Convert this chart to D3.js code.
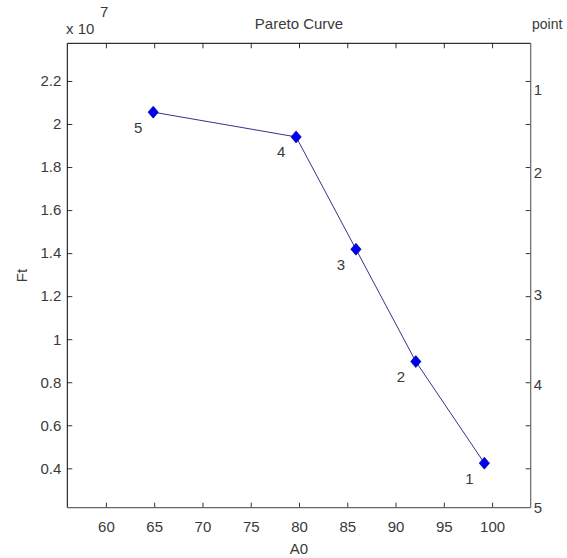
<!DOCTYPE html>
<html>
<head>
<meta charset="utf-8">
<script src="https://cdn.jsdelivr.net/npm/d3@7"></script>
<style>
  html, body { margin: 0; padding: 0; background: #fff; }
  svg { display: block; }
  text { font-family: "Liberation Sans", Arial, Helvetica, sans-serif; fill: #3a3a3a; }
</style>
</head>
<body>
<svg id="chart" width="567" height="558"></svg>
<script>
// ---- data ----
const pointLabels = ["1", "2", "3", "4", "5"];
const A0 = [99.2, 92.1, 85.9, 79.7, 64.9];
const Ft = [4240000, 8960000, 14180000, 19400000, 20550000];

const xTicks = [60, 65, 70, 75, 80, 85, 90, 95, 100];
const yTicks = [4e6, 6e6, 8e6, 1e7, 1.2e7, 1.4e7, 1.6e7, 1.8e7, 2e7, 2.2e7];
const yTickLabels = ["0.4", "0.6", "0.8", "1", "1.2", "1.4", "1.6", "1.8", "2", "2.2"];
const rightTickLabels = ["1", "2", "3", "4", "5"];
const rightTickFt = [21580000, 17750000, 12060000, 7870000, 2170000];

const xDomain = [56, 104];
const yDomain = [2170000, 23750000];

// ---- layout ----
const pL = 67.3, pR = 530.7, pT = 43.3, pB = 507.7;
const svg = d3.select("#chart");

const x = d3.scaleLinear().domain(xDomain).range([pL, pR]);
const y = d3.scaleLinear().domain(yDomain).range([pB, pT]);

const fs = 15;
const tc = "#3a3a3a";

// bottom axis
const gB = svg.append("g").attr("transform", `translate(0,${pB})`)
  .call(d3.axisBottom(x).tickValues(xTicks).tickSizeInner(-5).tickSizeOuter(0).tickPadding(14));
// top axis (ticks only)
const gT = svg.append("g").attr("transform", `translate(0,${pT})`)
  .call(d3.axisTop(x).tickValues(xTicks).tickSizeInner(-5).tickSizeOuter(0).tickFormat(""));
// left axis
const gL = svg.append("g").attr("transform", `translate(${pL},0)`)
  .call(d3.axisLeft(y).tickValues(yTicks).tickSizeInner(-5).tickSizeOuter(0).tickPadding(6)
    .tickFormat((d, i) => yTickLabels[i]));
// right axis ticks (mirror of left)
const gR = svg.append("g").attr("transform", `translate(${pR},0)`)
  .call(d3.axisRight(y).tickValues(yTicks).tickSizeInner(-5).tickSizeOuter(0).tickFormat(""));
// right axis labels
const gR2 = svg.append("g").attr("transform", `translate(${pR},0)`)
  .call(d3.axisRight(y).tickValues(rightTickFt).tickSize(0).tickPadding(3)
    .tickFormat((d, i) => rightTickLabels[i]));

[gB, gT, gL, gR, gR2].forEach(g => {
  g.select(".domain").remove();
  g.selectAll(".tick line").attr("stroke", "#333").attr("stroke-width", 1);
  g.selectAll(".tick text").style("font-family", '"Liberation Sans", Arial, sans-serif')
    .style("font-size", fs + "px").attr("fill", tc);
});

// frame
svg.append("line").attr("x1", pL).attr("x2", pR).attr("y1", pT).attr("y2", pT)
  .attr("stroke", "#000").attr("stroke-width", 1);
svg.append("line").attr("x1", pL).attr("x2", pL).attr("y1", pT).attr("y2", pB)
  .attr("stroke", "#000").attr("stroke-width", 1);
svg.append("line").attr("x1", pL).attr("x2", pR).attr("y1", pB).attr("y2", pB)
  .attr("stroke", "#666").attr("stroke-width", 1.2);
svg.append("line").attr("x1", pR).attr("x2", pR).attr("y1", pT).attr("y2", pB)
  .attr("stroke", "#666").attr("stroke-width", 1.2);

// data line
const pts = A0.map((a, i) => ({ a, f: Ft[i], label: pointLabels[i] }));
svg.append("path").datum(pts)
  .attr("d", d3.line().x(d => x(d.a)).y(d => y(d.f)))
  .attr("fill", "none").attr("stroke", "#33338a").attr("stroke-width", 1);

// markers (diamonds)
svg.selectAll("path.mk").data(pts).join("path").attr("class", "mk")
  .attr("d", d => {
    const cx = x(d.a), cy = y(d.f), w = 5.2, h = 6;
    return `M${cx},${cy - h}L${cx + w},${cy}L${cx},${cy + h}L${cx - w},${cy}Z`;
  })
  .attr("fill", "#0000f0").attr("stroke", "#00008b").attr("stroke-width", 0.6);

// point labels
svg.selectAll("text.pl").data(pts).join("text").attr("class", "pl")
  .attr("x", d => x(d.a) - 15).attr("y", d => y(d.f) + 15)
  .attr("text-anchor", "middle").attr("dominant-baseline", "central")
  .style("font-size", fs + "px").text(d => d.label);

// title & labels
const cxPlot = (pL + pR) / 2;
svg.append("text").attr("x", cxPlot).attr("y", 29).attr("text-anchor", "middle")
  .style("font-size", fs + "px").text("Pareto Curve");
svg.append("text").attr("x", cxPlot).attr("y", 554).attr("text-anchor", "middle")
  .style("font-size", fs + "px").text("A0");
svg.append("text").attr("transform", `translate(27,${(pT + pB) / 2}) rotate(-90)`)
  .attr("text-anchor", "middle").style("font-size", fs + "px").text("Ft");
svg.append("text").attr("x", 532).attr("y", 29).style("font-size", "14px").text("point");

// exponent
svg.append("text").attr("x", 66).attr("y", 34).style("font-size", fs + "px").text("x 10");
svg.append("text").attr("x", 100).attr("y", 17).style("font-size", fs + "px").text("7");
</script>
</body>
</html>
